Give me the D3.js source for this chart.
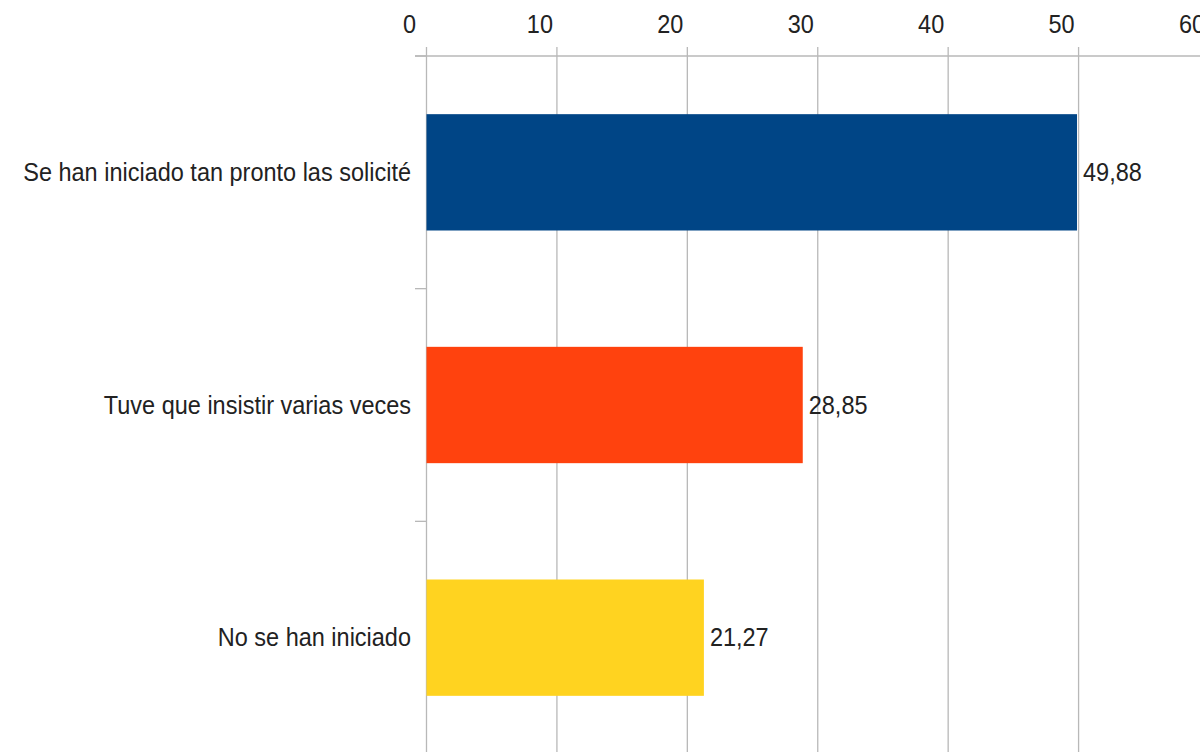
<!DOCTYPE html>
<html><head><meta charset="utf-8">
<script src="https://cdn.jsdelivr.net/npm/d3@7"></script>
<style>body{margin:0;background:#fff}svg{display:block}text{font-family:"Liberation Sans",Arial,sans-serif;fill:#222}</style>
</head><body><svg id="c" width="1200" height="752"></svg>
<script>
const categories = ["Se han iniciado tan pronto las solicité", "Tuve que insistir varias veces", "No se han iniciado"];
const values = [49.88, 28.85, 21.27];
const valueLabels = ["49,88", "28,85", "21,27"];
const colors = ["#004586", "#ff420e", "#ffd320"];
const xTicks = [0, 10, 20, 30, 40, 50, 60];

const svg = d3.select("#c");
const x = d3.scaleLinear().domain([0, 60]).range([426.5, 1209]);
const y = d3.scaleBand().domain(categories).range([56, 754]).paddingInner(0.5).paddingOuter(0.25);
const step = y.step();
const grid = "#b8b8b8";
const FS = 23.5, SY = 1.1;

svg.append("g").selectAll("line").data(xTicks).join("line")
  .attr("x1", d => x(d)).attr("x2", d => x(d)).attr("y1", 47).attr("y2", 752)
  .attr("stroke", grid).attr("stroke-width", 1.3);
svg.append("line").attr("x1", 415).attr("x2", 1200).attr("y1", 56).attr("y2", 56)
  .attr("stroke", grid).attr("stroke-width", 1.3);
const bounds = d3.range(categories.length + 1).map(i => y.range()[0] + i * step);
svg.append("g").selectAll("line").data(bounds).join("line")
  .attr("x1", 415).attr("x2", x(0)).attr("y1", d => d).attr("y2", d => d)
  .attr("stroke", grid).attr("stroke-width", 1.3);

svg.append("g").selectAll("rect").data(categories).join("rect")
  .attr("x", x(0)).attr("y", d => y(d))
  .attr("width", (d, i) => x(values[i]) - x(0)).attr("height", y.bandwidth())
  .attr("fill", (d, i) => colors[i]);

svg.append("g").selectAll("text").data(xTicks).join("text")
  .attr("transform", d => `translate(${x(d) - 17},33) scale(1,${SY})`)
  .attr("text-anchor", "middle").attr("font-size", FS).text(d => d);

svg.append("g").selectAll("text").data(categories).join("text")
  .attr("transform", d => `translate(411,${y(d) + y.bandwidth() / 2 + 8.5}) scale(1,${SY})`)
  .attr("text-anchor", "end").attr("font-size", FS).text(d => d);

svg.append("g").selectAll("text").data(categories).join("text")
  .attr("transform", (d, i) => `translate(${x(values[i]) + 6},${y(d) + y.bandwidth() / 2 + 8.5}) scale(1,${SY})`)
  .attr("font-size", FS).text((d, i) => valueLabels[i]);
</script></body></html>
